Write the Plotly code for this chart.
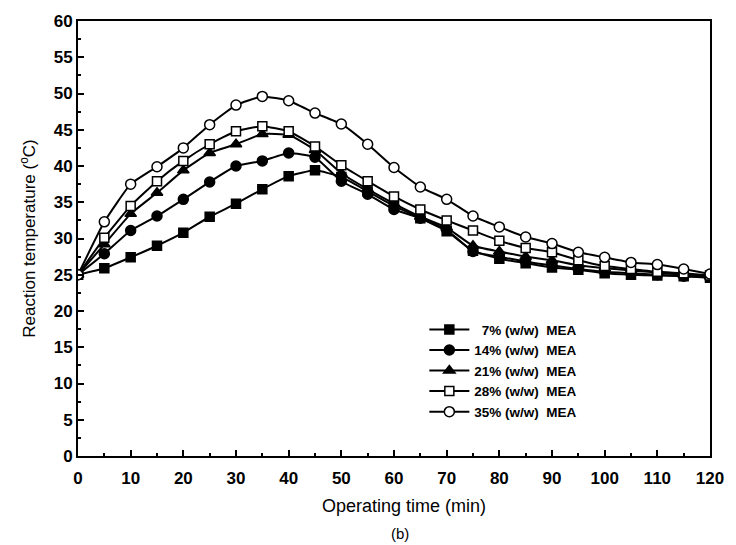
import plotly.graph_objects as go

time_min = [0, 5, 10, 15, 20, 25, 30, 35, 40, 45, 50, 55, 60, 65, 70, 75, 80, 85, 90, 95, 100, 105, 110, 115, 120]
mea_7 = [25, 25.9, 27.4, 29.0, 30.8, 33.0, 34.8, 36.8, 38.6, 39.4, 38.5, 36.5, 34.5, 32.8, 31.0, 28.3, 27.2, 26.6, 26.0, 25.7, 25.2, 25.0, 24.9, 24.8, 24.6]
mea_14 = [25, 27.9, 31.1, 33.1, 35.4, 37.8, 40.0, 40.7, 41.8, 41.2, 37.9, 36.1, 34.0, 32.8, 31.2, 28.2, 27.5, 26.8, 26.3, 25.8, 25.4, 25.2, 25.0, 24.8, 24.7]
mea_21 = [25, 29.2, 33.4, 36.3, 39.4, 41.8, 43.0, 44.4, 44.3, 42.2, 39.0, 36.8, 34.8, 33.0, 31.5, 29.0, 28.2, 27.5, 27.0, 26.3, 25.9, 25.6, 25.3, 25.0, 24.8]
mea_28 = [25, 30.1, 34.5, 37.9, 40.7, 43.0, 44.8, 45.5, 44.8, 42.7, 40.1, 37.9, 35.8, 34.0, 32.5, 31.1, 29.7, 28.7, 28.1, 27.0, 26.2, 25.8, 25.4, 25.2, 24.9]
mea_35 = [25, 32.3, 37.5, 39.9, 42.5, 45.7, 48.4, 49.6, 49.0, 47.3, 45.8, 43.0, 39.8, 37.1, 35.4, 33.1, 31.6, 30.2, 29.3, 28.1, 27.4, 26.7, 26.4, 25.8, 25.1]

series_names = ["\u00a0\u00a07% (w/w)\u00a0\u00a0MEA", "14% (w/w)\u00a0\u00a0MEA", "21% (w/w)\u00a0\u00a0MEA",
                "28% (w/w)\u00a0\u00a0MEA", "35% (w/w)\u00a0\u00a0MEA"]
series_values = [mea_7, mea_14, mea_21, mea_28, mea_35]
symbols = ["square", "circle", "triangle-up", "square", "circle"]
fills = ["black", "black", "black", "white", "white"]
sizes = [9, 10, 10, 9, 10]

FONT = "Liberation Sans, Arial, sans-serif"

fig = go.Figure()
for name, vals, sym, fc, sz in zip(series_names, series_values, symbols, fills, sizes):
    fig.add_trace(go.Scatter(
        x=time_min, y=vals, name=name, mode="lines+markers",
        line=dict(color="black", width=2, shape="spline", smoothing=0.4),
        marker=dict(symbol=sym, size=sz, color=fc, line=dict(color="black", width=1.5)),
    ))

fig.update_layout(
    width=736, height=545,
    margin=dict(l=78, r=18, t=18, b=89),
    paper_bgcolor="white", plot_bgcolor="white",
    font=dict(family=FONT, color="black", size=16),
    showlegend=True,
    legend=dict(x=0.548, y=0.326, xanchor="left", yanchor="top",
                bgcolor="rgba(0,0,0,0)", font=dict(family=FONT, size=13.5, weight="bold"),
                tracegroupgap=0, itemwidth=40),
    xaxis=dict(range=[0, 120], dtick=10, tick0=0, showgrid=False, zeroline=False,
               showline=True, linecolor="black", linewidth=2, mirror=True,
               ticks="inside", ticklen=6, tickwidth=1.5, tickcolor="black",
               minor=dict(ticks="inside", dtick=5, ticklen=3, tickwidth=1.5, tickcolor="black"),
               ticklabelstandoff=6,
               tickfont=dict(family=FONT, size=17, weight="bold")),
    yaxis=dict(range=[0, 60], dtick=5, tick0=0, showgrid=False, zeroline=False,
               showline=True, linecolor="black", linewidth=2, mirror=True,
               ticks="inside", ticklen=6, tickwidth=1.5, tickcolor="black",
               minor=dict(ticks="inside", dtick=2.5, ticklen=3, tickwidth=1.5, tickcolor="black"),
               tickfont=dict(family=FONT, size=17, weight="bold"),
               title=dict(text="Reaction temperature (<sup>o</sup>C)", font=dict(family=FONT, size=17), standoff=14)),
    annotations=[
        dict(text="Operating time (min)", xref="paper", yref="paper", x=0.516, y=-0.114,
             xanchor="center", yanchor="middle", showarrow=False,
             font=dict(family=FONT, size=18)),
        dict(text="(b)", xref="paper", yref="paper", x=0.51, y=-0.178,
             xanchor="center", yanchor="middle", showarrow=False,
             font=dict(family=FONT, size=15)),
    ],
)

fig.write_html("out.html")
